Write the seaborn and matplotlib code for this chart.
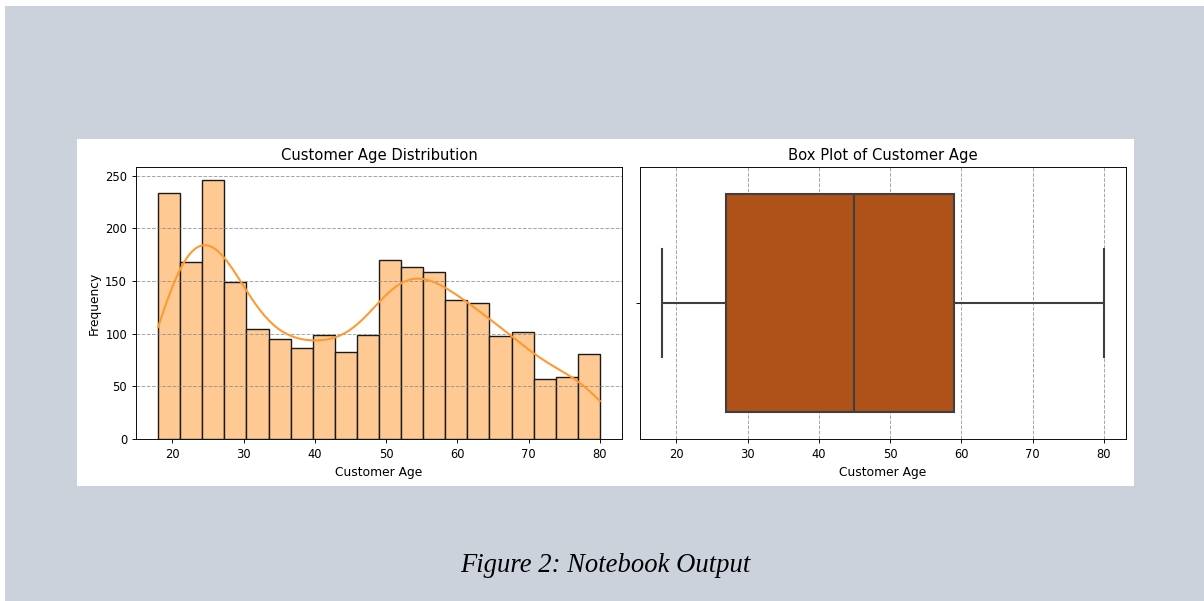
import matplotlib
matplotlib.use('Agg')
import matplotlib.pyplot as plt
from matplotlib.patches import Rectangle
import numpy as np
import pandas as pd
import seaborn as sns

# bar heights (20 equal bins from 18 to 80)
age_min, age_max = 18, 80
age_counts = [234, 168, 246, 149, 104, 95, 86, 99, 83, 99,
              170, 163, 159, 132, 129, 98, 102, 57, 59, 81]
# box plot: min, Q1, median, Q3, max
age_summary = [18, 27, 45, 59, 80]
x_ticks = [20, 30, 40, 50, 60, 70, 80]

n_bins = len(age_counts)
edges = np.linspace(age_min, age_max, n_bins + 1)
centres = (edges[:-1] + edges[1:]) / 2
hist_df = pd.DataFrame({'Customer Age': centres, 'count': age_counts})

s = 0.83  # notebook output shown a bit smaller than 100%
matplotlib.rcParams['font.family'] = ['DejaVu Sans']
matplotlib.rcParams['font.size'] = 10 * s
matplotlib.rcParams['axes.titlesize'] = 10.6
matplotlib.rcParams['axes.labelsize'] = 8.8
matplotlib.rcParams['xtick.labelsize'] = 10 * s
matplotlib.rcParams['ytick.labelsize'] = 10 * s
matplotlib.rcParams['axes.linewidth'] = 0.8 * s
matplotlib.rcParams['xtick.major.width'] = 0.8 * s
matplotlib.rcParams['ytick.major.width'] = 0.8 * s
matplotlib.rcParams['xtick.major.size'] = 3.5 * s
matplotlib.rcParams['ytick.major.size'] = 3.5 * s
matplotlib.rcParams['axes.titlepad'] = 6 * s
matplotlib.rcParams['axes.labelpad'] = 4 * s

W, H = 1204, 601
fig = plt.figure(figsize=(W / 100, H / 100), dpi=100)
fig.patch.set_facecolor('white')
fig.add_artist(Rectangle((5 / W, 0), 1, (H - 6) / H, transform=fig.transFigure,
                         facecolor='#ccd2db', edgecolor='none', zorder=-2))
fig.add_artist(Rectangle((77 / W, (H - 486) / H), (1134 - 77) / W, (486 - 139) / H,
                         transform=fig.transFigure, facecolor='white',
                         edgecolor='none', zorder=-1))

ax1 = fig.add_axes([136 / W, (H - 439) / H, 486 / W, 272 / H])
ax2 = fig.add_axes([640 / W, (H - 439) / H, 486 / W, 272 / H])

sns.histplot(data=hist_df, x='Customer Age', weights='count', bins=n_bins,
             binrange=(age_min, age_max),
             kde=True, color='#ff9a33', edgecolor='black', linewidth=1,
             kde_kws={'bw_adjust': 0.39, 'cut': 1, 'clip': (age_min, age_max)},
             line_kws={'linewidth': 1.5}, ax=ax1)
for p in ax1.patches:
    p.set_facecolor('#fec993')
    p.set_alpha(None)
    p.set_edgecolor('#1a1a1a')
ax1.set_title('Customer Age Distribution')
ax1.set_xlabel('Customer Age')
ax1.set_ylabel('Frequency')
ax1.set_xticks(x_ticks)
ax1.grid(axis='y', linestyle='--', color='grey', alpha=0.7, linewidth=0.7)

sns.boxplot(x=age_summary, color='#ae521a', saturation=1, linecolor='#3f3f3f',
            linewidth=1.5, ax=ax2)
ax2.set_title('Box Plot of Customer Age')
ax2.set_xlabel('Customer Age')
ax2.set_xlim(ax1.get_xlim())
ax2.set_xticks(x_ticks)
ax2.set_axisbelow(True)
ax2.grid(axis='x', linestyle='--', color='grey', alpha=0.7, linewidth=0.7)

fig.text(605 / W, (H - 566) / H, 'Figure 2: Notebook Output', ha='center', va='center',
         fontsize=19.2, fontstyle='italic', family=['Liberation Serif', 'DejaVu Serif'])

fig.savefig('out.png', dpi=100)
